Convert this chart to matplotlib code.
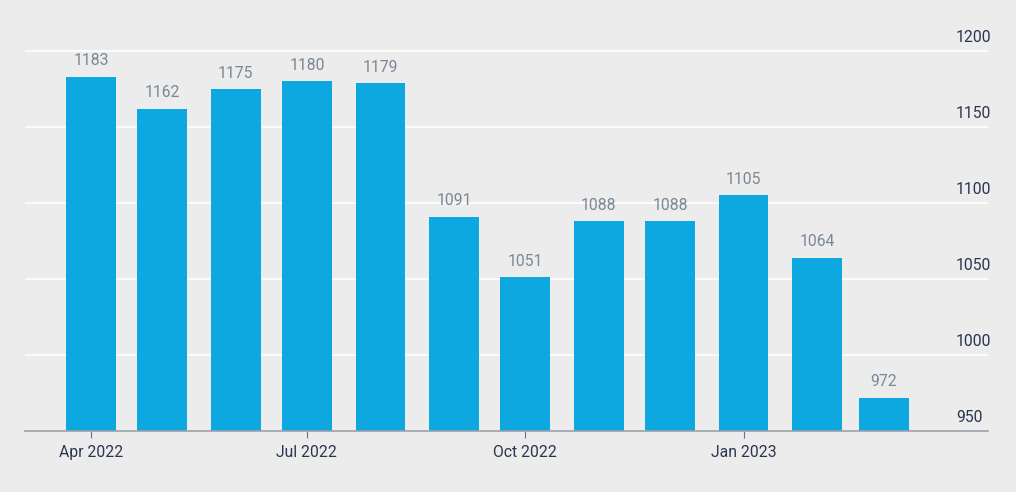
import matplotlib
matplotlib.use("Agg")
import matplotlib.pyplot as plt
import matplotlib.dates as mdates
import matplotlib.transforms as mtransforms
from datetime import date

# data
months = ["2022-04", "2022-05", "2022-06", "2022-07", "2022-08", "2022-09",
          "2022-10", "2022-11", "2022-12", "2023-01", "2023-02", "2023-03"]
values = [1183, 1162, 1175, 1180, 1179, 1091, 1051, 1088, 1088, 1105, 1064, 972]
y_ticks = [950, 1000, 1050, 1100, 1150, 1200]
x_ticks = ["2022-04", "2022-07", "2022-10", "2023-01"]

bg = "#ececec"
bar_color = "#0ea8e0"
label_color = "#7b8794"
tick_color = "#2b3550"
fs = 11.3

plt.rcParams["font.family"] = ["Roboto", "DejaVu Sans"]


def to_num(m):
    y, mo = m.split("-")
    return mdates.date2num(date(int(y), int(mo), 1))


x = [to_num(m) for m in months]

fig = plt.figure(figsize=(10.16, 4.92), dpi=100, facecolor=bg)
ax = fig.add_axes([25 / 1016, 61 / 492, (988 - 25) / 1016, (431 - 20) / 492])
ax.set_facecolor(bg)

ax.bar(x, values, width=21, color=bar_color, zorder=2)
for xi, v in zip(x, values):
    ax.annotate(str(v), (xi, v), xytext=(0, 6), textcoords="offset points",
                ha="center", va="bottom", fontsize=fs, color=label_color)

x0 = x[0]
ax.set_xlim(x0 - 27.8, x0 + 378)
ax.set_ylim(950, 1200 + 31 / 76.2 * 50)

# y labels sit above the gridlines, left aligned near the right edge
ax.set_yticks(y_ticks)
ax.set_yticklabels([])
ax.tick_params(axis="y", length=0)
trans = mtransforms.blended_transform_factory(ax.transAxes, ax.transData)
for t in y_ticks:
    ax.annotate(str(t), (0.9668, t), xycoords=trans, xytext=(0, 4),
                textcoords="offset points", ha="left", va="bottom",
                fontsize=fs, color=tick_color)
ax.grid(axis="y", color="white", linewidth=1.2, zorder=1)

ax.set_xticks([to_num(m) for m in x_ticks])
ax.xaxis.set_major_formatter(mdates.DateFormatter("%b %Y"))
ax.tick_params(axis="x", length=5, color="#6b7280", labelsize=fs, labelcolor=tick_color, pad=5)

for s in ["top", "left", "right"]:
    ax.spines[s].set_visible(False)
ax.spines["bottom"].set_color("#9aa0aa")
ax.spines["bottom"].set_linewidth(1.2)
ax.spines["bottom"].set_zorder(3)

fig.savefig("out.png", dpi=100, facecolor=bg)
